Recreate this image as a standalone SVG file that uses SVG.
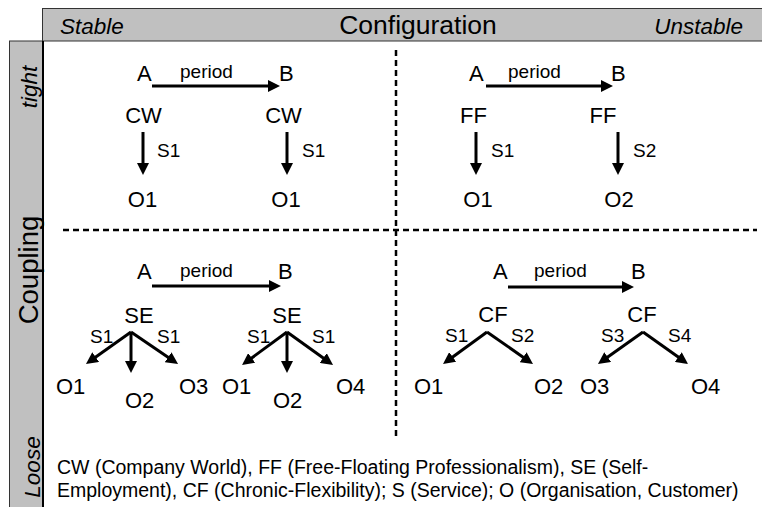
<svg xmlns="http://www.w3.org/2000/svg" width="762" height="507" viewBox="0 0 762 507">
<defs>
<marker id="ah" markerUnits="userSpaceOnUse" markerWidth="12" markerHeight="12" refX="3" refY="6" orient="auto">
<path d="M0,0 L12,6 L0,12 z" fill="#000"/>
</marker>
<style>
text{font-family:"Liberation Sans",Arial,Helvetica,sans-serif;fill:#000}
.big{font-size:22px}
.lab{font-size:19px}
.it{font-style:italic;font-size:22.5px}
.arr{stroke:#000;stroke-width:3;fill:none;marker-end:url(#ah)}
.dash{stroke:#000;stroke-width:2.5;stroke-dasharray:6,4;fill:none}
.band{fill:#c0c0c0;stroke:#333;stroke-width:1}
</style>
</defs>
<rect width="762" height="507" fill="#fff"/>
<g id="header">
<rect class="band" x="42.5" y="8.5" width="730" height="32.5"/>
<text class="it" x="60" y="34">Stable</text>
<text x="418" y="34" font-size="26.5" text-anchor="middle">Configuration</text>
<text class="it" x="743" y="34" text-anchor="end">Unstable</text>
</g>
<g id="sidebar">
<rect class="band" x="9.5" y="41" width="33" height="475"/>
<line x1="43" y1="41" x2="43" y2="507" stroke="#000" stroke-width="2"/>
<text class="it" transform="translate(37,87) rotate(-90)" text-anchor="middle">tight</text>
<text transform="translate(38,270) rotate(-90)" font-size="27.5" text-anchor="middle">Coupling</text>
<text class="it" transform="translate(40,467) rotate(-90)" text-anchor="middle">Loose</text>
</g>
<g id="dividers">
<line class="dash" x1="63" y1="230" x2="757" y2="230"/>
<line class="dash" x1="396" y1="50" x2="396" y2="438"/>
</g>
<g id="q-tight-stable">
<text class="big" x="137" y="81">A</text>
<text class="lab" x="180" y="78">period</text>
<text class="big" x="279" y="81">B</text>
<text class="big" x="143.5" y="123" text-anchor="middle">CW</text>
<text class="big" x="283.5" y="123" text-anchor="middle">CW</text>
<text class="lab" x="157" y="157">S1</text>
<text class="lab" x="302" y="157">S1</text>
<text class="big" x="142.5" y="207" text-anchor="middle">O1</text>
<text class="big" x="286" y="207" text-anchor="middle">O1</text>
</g>
<g id="q-tight-unstable">
<text class="big" x="469" y="81">A</text>
<text class="lab" x="508" y="78">period</text>
<text class="big" x="611" y="81">B</text>
<text class="big" x="473.5" y="123" text-anchor="middle">FF</text>
<text class="big" x="603" y="123" text-anchor="middle">FF</text>
<text class="lab" x="491" y="157">S1</text>
<text class="lab" x="633" y="157">S2</text>
<text class="big" x="478" y="207" text-anchor="middle">O1</text>
<text class="big" x="619" y="207" text-anchor="middle">O2</text>
</g>
<g id="q-loose-stable">
<text class="big" x="137" y="279">A</text>
<text class="lab" x="180" y="277">period</text>
<text class="big" x="278" y="279">B</text>
<text class="big" x="139" y="323" text-anchor="middle">SE</text>
<text class="big" x="287" y="323" text-anchor="middle">SE</text>
<text class="lab" x="90" y="343">S1</text>
<text class="lab" x="157" y="343">S1</text>
<text class="lab" x="247" y="343">S1</text>
<text class="lab" x="312" y="343">S1</text>
<text class="big" x="56" y="394">O1</text>
<text class="big" x="125" y="408">O2</text>
<text class="big" x="179" y="394">O3</text>
<text class="big" x="222" y="394">O1</text>
<text class="big" x="273" y="408">O2</text>
<text class="big" x="336" y="394">O4</text>
</g>
<g id="q-loose-unstable">
<text class="big" x="493" y="279">A</text>
<text class="lab" x="534" y="277">period</text>
<text class="big" x="631" y="279">B</text>
<text class="big" x="493" y="322" text-anchor="middle">CF</text>
<text class="big" x="642" y="322" text-anchor="middle">CF</text>
<text class="lab" x="445" y="342">S1</text>
<text class="lab" x="511" y="342">S2</text>
<text class="lab" x="601" y="342">S3</text>
<text class="lab" x="668" y="342">S4</text>
<text class="big" x="414" y="394">O1</text>
<text class="big" x="534" y="394">O2</text>
<text class="big" x="580" y="394">O3</text>
<text class="big" x="691" y="394">O4</text>
</g>
<g id="connectors">
<line class="arr" x1="152" y1="86" x2="271" y2="86"/>
<line class="arr" x1="486" y1="86" x2="604" y2="86"/>
<line class="arr" x1="152" y1="286" x2="272" y2="286"/>
<line class="arr" x1="508" y1="287" x2="625" y2="287"/>
<line class="arr" x1="143" y1="132" x2="143" y2="166"/>
<line class="arr" x1="287" y1="132" x2="287" y2="166"/>
<line class="arr" x1="476" y1="132" x2="476" y2="166"/>
<line class="arr" x1="618" y1="132" x2="618" y2="166"/>
<line class="arr" x1="131" y1="332" x2="93.3" y2="358.8"/>
<line class="arr" x1="131" y1="332" x2="131" y2="364"/>
<line class="arr" x1="131" y1="332" x2="170.6" y2="358.9"/>
<line class="arr" x1="287" y1="332" x2="249.3" y2="359.7"/>
<line class="arr" x1="287" y1="332" x2="287" y2="364"/>
<line class="arr" x1="287" y1="332" x2="325.7" y2="359.8"/>
<line class="arr" x1="487" y1="332" x2="450.3" y2="358.7"/>
<line class="arr" x1="487" y1="332" x2="525.6" y2="358.9"/>
<line class="arr" x1="643" y1="332" x2="605.3" y2="358.8"/>
<line class="arr" x1="643" y1="332" x2="680.7" y2="358.8"/>
</g>
<g id="legend">
<text font-size="19.5" x="57" y="474">CW (Company World), FF (Free-Floating Professionalism), SE (Self-</text>
<text font-size="19.5" x="57" y="497">Employment), CF (Chronic-Flexibility); S (Service); O (Organisation, Customer)</text>
</g>
</svg>
